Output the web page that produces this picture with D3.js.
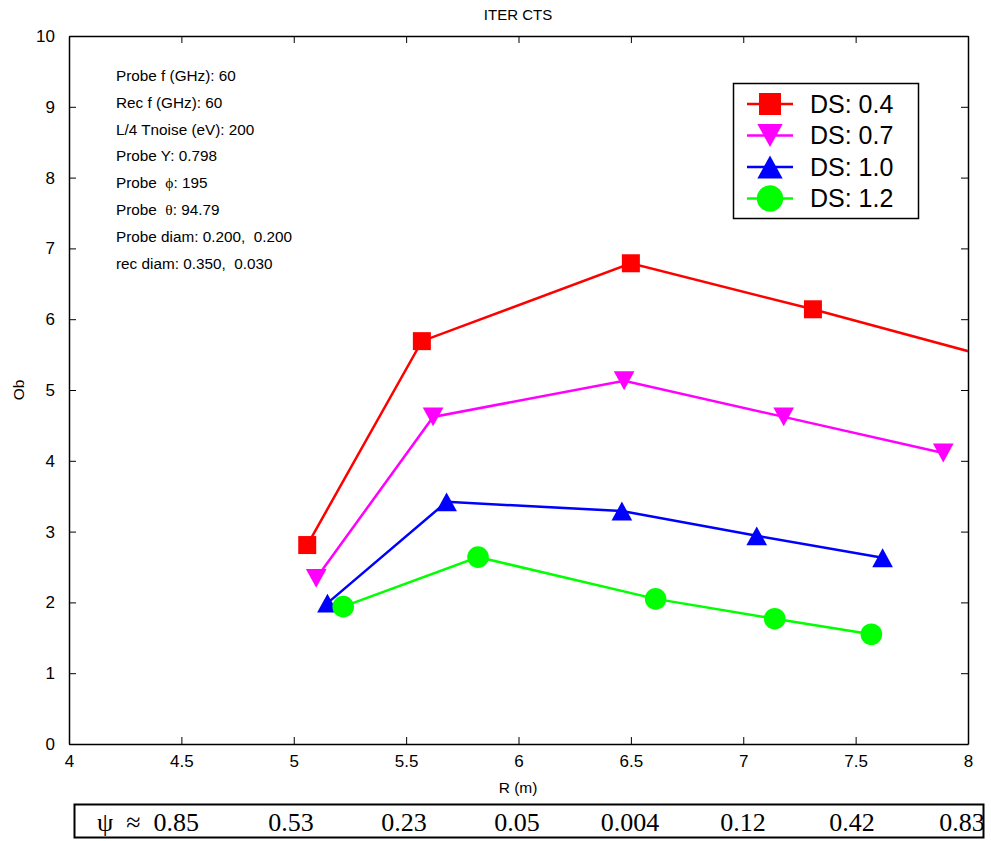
<!DOCTYPE html>
<html><head><meta charset="utf-8">
<script src="https://cdn.jsdelivr.net/npm/d3@7"></script>
<style>body{margin:0;background:#fff}svg{display:block}text{white-space:pre}</style>
</head><body><div id="chart"></div>
<script>
const seriesNames = ["DS: 0.4", "DS: 0.7", "DS: 1.0", "DS: 1.2"];
const seriesColors = ["#ff0000", "#ff00ff", "#0000ff", "#00ff00"];
const seriesMarkers = ["square", "triangleDown", "triangleUp", "circle"];
const rDS04 = [5.06, 5.57, 6.50, 7.31, 8.15];
const obDS04 = [2.81, 5.69, 6.79, 6.14, 5.42];
const rDS07 = [5.10, 5.62, 6.47, 7.18, 7.89];
const obDS07 = [2.34, 4.62, 5.13, 4.62, 4.11];
const rDS10 = [5.15, 5.68, 6.46, 7.06, 7.62];
const obDS10 = [1.99, 3.42, 3.29, 2.94, 2.63];
const rDS12 = [5.22, 5.82, 6.61, 7.14, 7.57];
const obDS12 = [1.94, 2.64, 2.05, 1.77, 1.55];
const xTicks = [4, 4.5, 5, 5.5, 6, 6.5, 7, 7.5, 8];
const yTicks = [0, 1, 2, 3, 4, 5, 6, 7, 8, 9, 10];
const annotations = [
  ["Probe f (GHz): 60"],
  ["Rec f (GHz): 60"],
  ["L/4 Tnoise (eV): 200"],
  ["Probe Y: 0.798"],
  ["Probe  ", "ϕ", ": 195"],
  ["Probe  ", "θ", ": 94.79"],
  ["Probe diam: 0.200,  0.200"],
  ["rec diam: 0.350,  0.030"]
];
const psiLabels = ["ψ  ≈  0.85", "0.53", "0.23", "0.05", "0.004", "0.12", "0.42", "0.83"];

const series = [[rDS04, obDS04], [rDS07, obDS07], [rDS10, obDS10], [rDS12, obDS12]].map((s, i) => ({
  name: seriesNames[i], color: seriesColors[i], marker: seriesMarkers[i],
  pts: s[0].map((r, j) => ({r, v: s[1][j]}))
}));

const W = 991, H = 841;
const m = {left: 69, right: 968, top: 36, bottom: 744};
const svg = d3.select("#chart").append("svg").attr("width", W).attr("height", H)
  .style("font-family", "'Liberation Sans', Arial, sans-serif");
const x = d3.scaleLinear().domain([4, 8]).range([m.left, m.right]);
const y = d3.scaleLinear().domain([0, 10]).range([m.bottom, m.top]);

svg.append("defs").append("clipPath").attr("id", "clip").append("rect")
  .attr("x", m.left).attr("y", m.top).attr("width", m.right - m.left).attr("height", m.bottom - m.top);

// axes
const axB = svg.append("g").attr("transform", `translate(0,${m.bottom})`)
  .call(d3.axisBottom(x).tickValues(xTicks).tickFormat(d3.format("")).tickSizeInner(-7).tickSizeOuter(0).tickPadding(11));
const axT = svg.append("g").attr("transform", `translate(0,${m.top})`)
  .call(d3.axisTop(x).tickValues(xTicks).tickFormat("").tickSizeInner(-7).tickSizeOuter(0));
const axL = svg.append("g").attr("transform", `translate(${m.left},0)`)
  .call(d3.axisLeft(y).tickValues(yTicks).tickFormat(d3.format("")).tickSizeInner(-7).tickSizeOuter(0).tickPadding(14));
const axR = svg.append("g").attr("transform", `translate(${m.right},0)`)
  .call(d3.axisRight(y).tickValues(yTicks).tickFormat("").tickSizeInner(-7).tickSizeOuter(0));
[axB, axT, axL, axR].forEach(g => {
  g.select(".domain").attr("stroke", "#000").attr("stroke-width", 1.5);
  g.selectAll(".tick line").attr("stroke", "#000");
  g.selectAll("text").attr("font-size", 17).attr("fill", "#000").attr("font-family", "'Liberation Sans', Arial, sans-serif");
});

// title and labels
svg.append("text").attr("x", 518).attr("y", 20).attr("text-anchor", "middle").attr("font-size", 15).text("ITER CTS");
svg.append("text").attr("x", 518).attr("y", 793).attr("text-anchor", "middle").attr("font-size", 15.5).text("R (m)");
svg.append("text").attr("transform", "translate(24,390) rotate(-90)").attr("text-anchor", "middle").attr("font-size", 15.5).text("Ob");

// annotations
annotations.forEach((parts, i) => {
  const t = svg.append("text").attr("x", 116).attr("y", 81 + i * 26.8).attr("font-size", 15.3);
  parts.forEach((p, k) => {
    const ts = t.append("tspan").text(p);
    if (parts.length > 1 && k === 1) ts.attr("font-family", "'Liberation Serif', 'Times New Roman', serif").attr("font-size", 15.5);
  });
});

// marker drawing
function drawMarker(g, type, cx, cy, color, s) {
  if (type === "square") {
    g.append("rect").attr("x", cx - s * 0.5).attr("y", cy - s * 0.5).attr("width", s).attr("height", s).attr("fill", color);
  } else if (type === "circle") {
    g.append("circle").attr("cx", cx).attr("cy", cy).attr("r", s * 0.6).attr("fill", color);
  } else {
    const h = s * 1.05, w = s * 1.15;
    const pts = type === "triangleUp"
      ? [[cx, cy - h / 2], [cx + w / 2, cy + h / 2], [cx - w / 2, cy + h / 2]]
      : [[cx, cy + h / 2], [cx + w / 2, cy - h / 2], [cx - w / 2, cy - h / 2]];
    g.append("polygon").attr("points", pts.map(p => p.join(",")).join(" ")).attr("fill", color);
  }
}

const plot = svg.append("g").attr("clip-path", "url(#clip)");
const line = d3.line().x(d => x(d.r)).y(d => y(d.v));
series.forEach(s => {
  plot.append("path").datum(s.pts).attr("d", line).attr("fill", "none").attr("stroke", s.color).attr("stroke-width", 2.5);
  s.pts.forEach(p => drawMarker(plot, s.marker, x(p.r), y(p.v), s.color, 18));
});

// legend
const lg = svg.append("g");
lg.append("rect").attr("x", 733.5).attr("y", 83.5).attr("width", 185).attr("height", 135)
  .attr("fill", "#fff").attr("stroke", "#000").attr("stroke-width", 1.5);
series.forEach((s, i) => {
  const cy = 104 + i * 31.5;
  lg.append("line").attr("x1", 747).attr("x2", 793).attr("y1", cy).attr("y2", cy).attr("stroke", s.color).attr("stroke-width", 2.5);
  drawMarker(lg, s.marker, 770, cy, s.color, 22);
  lg.append("text").attr("x", 810).attr("y", cy + 8.5).attr("font-size", 25).text(s.name);
});

// psi table
svg.append("rect").attr("x", 74.5).attr("y", 804.5).attr("width", 909).attr("height", 33)
  .attr("fill", "none").attr("stroke", "#000").attr("stroke-width", 2);
const psiX = [148, 291, 404, 517, 630, 743, 852, 962];
psiLabels.forEach((t, i) => {
  svg.append("text").attr("x", psiX[i]).attr("y", 831).attr("text-anchor", "middle")
    .attr("font-family", "'Liberation Serif', 'Times New Roman', serif").attr("font-size", 26).text(t);
});
</script></body></html>
